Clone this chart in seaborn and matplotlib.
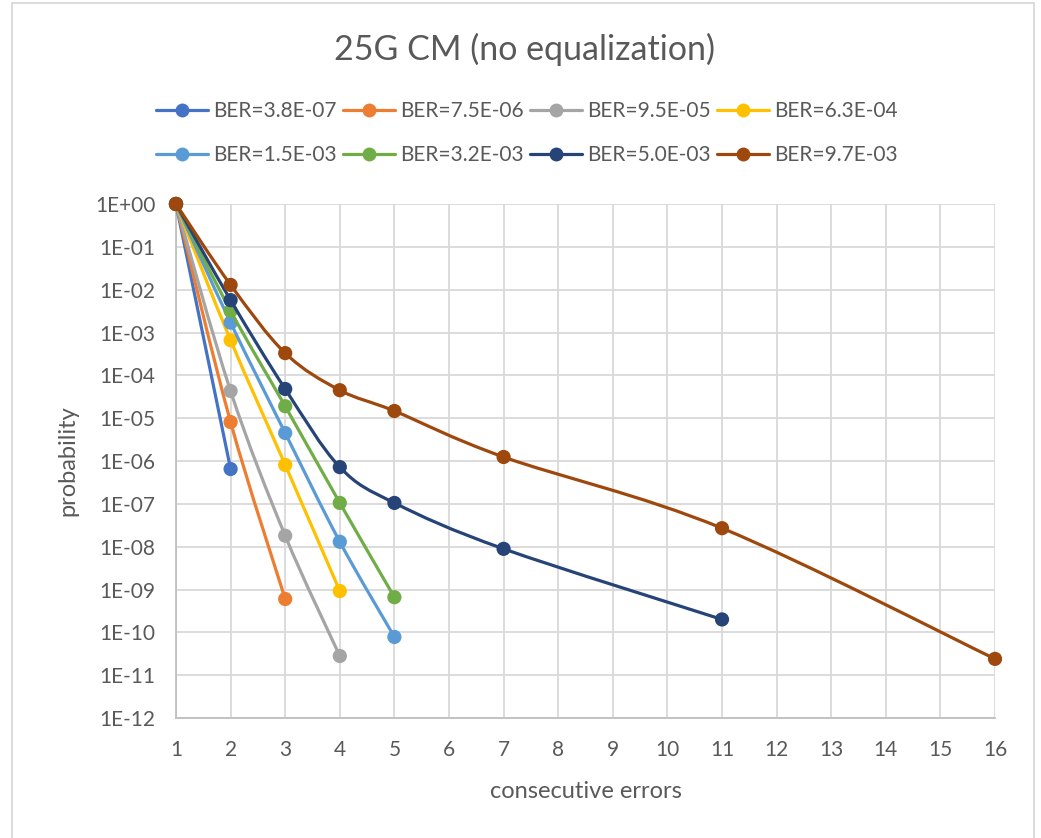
import numpy as np
import matplotlib
matplotlib.use("Agg")
import matplotlib.pyplot as plt
from matplotlib.path import Path
from matplotlib.patches import PathPatch, Rectangle
from matplotlib.lines import Line2D
from matplotlib.ticker import FixedLocator, FuncFormatter
import pandas as pd
import seaborn as sns

# Series: BER label, colour, consecutive-error counts and probabilities
labels = ["BER=3.8E-07", "BER=7.5E-06", "BER=9.5E-05", "BER=6.3E-04",
          "BER=1.5E-03", "BER=3.2E-03", "BER=5.0E-03", "BER=9.7E-03"]
colors = ["#4472C4", "#ED7D31", "#A5A5A5", "#FFC000",
          "#5B9BD5", "#70AD47", "#264478", "#9E480E"]

x_ber_3_8e07 = [1, 2]
p_ber_3_8e07 = [1.0, 6.5e-7]

x_ber_7_5e06 = [1, 2, 3]
p_ber_7_5e06 = [1.0, 8.1e-6, 6.0e-10]

x_ber_9_5e05 = [1, 2, 3, 4]
p_ber_9_5e05 = [1.0, 4.3e-5, 1.8e-8, 2.8e-11]

x_ber_6_3e04 = [1, 2, 3, 4]
p_ber_6_3e04 = [1.0, 6.6e-4, 8.1e-7, 9.2e-10]

x_ber_1_5e03 = [1, 2, 3, 4, 5]
p_ber_1_5e03 = [1.0, 1.7e-3, 4.5e-6, 1.3e-8, 7.8e-11]

x_ber_3_2e03 = [1, 2, 3, 4, 5]
p_ber_3_2e03 = [1.0, 3.2e-3, 1.9e-5, 1.05e-7, 6.6e-10]

x_ber_5_0e03 = [1, 2, 3, 4, 5, 7, 11]
p_ber_5_0e03 = [1.0, 5.7e-3, 4.8e-5, 7.2e-7, 1.05e-7, 8.9e-9, 2.0e-10]

x_ber_9_7e03 = [1, 2, 3, 4, 5, 7, 11, 16]
p_ber_9_7e03 = [1.0, 1.29e-2, 3.3e-4, 4.5e-5, 1.47e-5, 1.24e-6, 2.7e-8, 2.4e-11]

x_series = [x_ber_3_8e07, x_ber_7_5e06, x_ber_9_5e05, x_ber_6_3e04,
            x_ber_1_5e03, x_ber_3_2e03, x_ber_5_0e03, x_ber_9_7e03]
p_series = [p_ber_3_8e07, p_ber_7_5e06, p_ber_9_5e05, p_ber_6_3e04,
            p_ber_1_5e03, p_ber_3_2e03, p_ber_5_0e03, p_ber_9_7e03]

x_ticks = list(range(1, 17))
y_exponents = list(range(0, -13, -1))

df = pd.concat(
    [pd.DataFrame({"errors": xs, "probability": ps, "series": lab})
     for xs, ps, lab in zip(x_series, p_series, labels)],
    ignore_index=True)

sns.set_theme(style="white")
plt.rcParams["font.family"] = ["Lato", "DejaVu Sans"]
text_color = "#595959"
grid_color = "#D9D9D9"

fig = plt.figure(figsize=(10.41, 8.38), dpi=100)
ax = fig.add_axes([176 / 1041, 1 - 718 / 838, (995 - 176) / 1041, (718 - 204) / 838])
ax.set_yscale("log")
ax.set_xlim(1, 16)
ax.set_ylim(1e-12, 1.0)


def smooth_path(xs, ps):
    """Cubic Bezier through the points in (x, log10 p) space."""
    px = np.asarray(xs, dtype=float)
    py = np.log10(np.asarray(ps, dtype=float))
    n = len(px)
    verts = [(px[0], 10 ** py[0])]
    codes = [Path.MOVETO]
    for i in range(n - 1):
        i0 = max(i - 1, 0)
        i3 = min(i + 2, n - 1)
        c1x = px[i] + (px[i + 1] - px[i0]) / 6
        c1y = py[i] + (py[i + 1] - py[i0]) / 6
        c2x = px[i + 1] - (px[i3] - px[i]) / 6
        c2y = py[i + 1] - (py[i3] - py[i]) / 6
        verts += [(c1x, 10 ** c1y), (c2x, 10 ** c2y), (px[i + 1], 10 ** py[i + 1])]
        codes += [Path.CURVE4] * 3
    return Path(verts, codes)


for k, (xs, ps, col) in enumerate(zip(x_series, p_series, colors)):
    patch = PathPatch(smooth_path(xs, ps), facecolor="none", edgecolor=col,
                      lw=2.3, capstyle="round", joinstyle="round", zorder=3 + 2 * k)
    ax.add_patch(patch)
    sub = df[df["series"] == labels[k]]
    sns.scatterplot(data=sub, x="errors", y="probability", color=col, s=105,
                    edgecolor="none", linewidth=0, ax=ax, legend=False,
                    zorder=4 + 2 * k, clip_on=False)

ax.xaxis.set_major_locator(FixedLocator(x_ticks))
ax.yaxis.set_major_locator(FixedLocator([10.0 ** e for e in y_exponents]))
ax.yaxis.set_minor_locator(FixedLocator([]))
ax.yaxis.set_major_formatter(FuncFormatter(lambda v, _: f"1E{int(round(np.log10(v))):+03d}"))
ax.grid(True, which="major", color=grid_color, lw=1.3)
ax.set_axisbelow(True)
for side in ["top", "right"]:
    ax.spines[side].set_visible(False)
for side in ["left", "bottom"]:
    ax.spines[side].set_color("#BFBFBF")
    ax.spines[side].set_linewidth(1.3)
ax.tick_params(axis="both", length=0, labelsize=15, colors=text_color)
ax.tick_params(axis="x", pad=16)
ax.tick_params(axis="y", pad=15)

ax.set_xlabel("consecutive errors", fontsize=17, color=text_color, labelpad=15)
ax.set_ylabel("probability", fontsize=17, color=text_color, labelpad=12)

fig.text(525 / 1041, 1 - 49 / 838, "25G CM (no equalization)", ha="center", va="center",
         fontsize=24.5, color=text_color)

# legend filled row by row (matplotlib fills columns first)
ncol = 4
order = [r * ncol + c for c in range(ncol) for r in range(len(labels) // ncol)]
handles = [Line2D([0], [0], color=c, lw=2.3, marker="o", markersize=10,
                  markeredgewidth=0) for c in colors]
fig.legend([handles[i] for i in order], [labels[i] for i in order], loc="center",
           bbox_to_anchor=(527 / 1041, 1 - 133 / 838), ncol=ncol, frameon=False,
           fontsize=15, handlelength=2.5, handletextpad=0.25, columnspacing=0.3,
           labelspacing=1.15, labelcolor=text_color, borderpad=0)

fig.patches.append(Rectangle((12 / 1041, -0.05), (1034 - 12) / 1041, 1.05 - 3 / 838,
                             transform=fig.transFigure, fill=False,
                             edgecolor="#D9D9D9", lw=1.3))

fig.savefig("out.png", dpi=100, facecolor="white")
